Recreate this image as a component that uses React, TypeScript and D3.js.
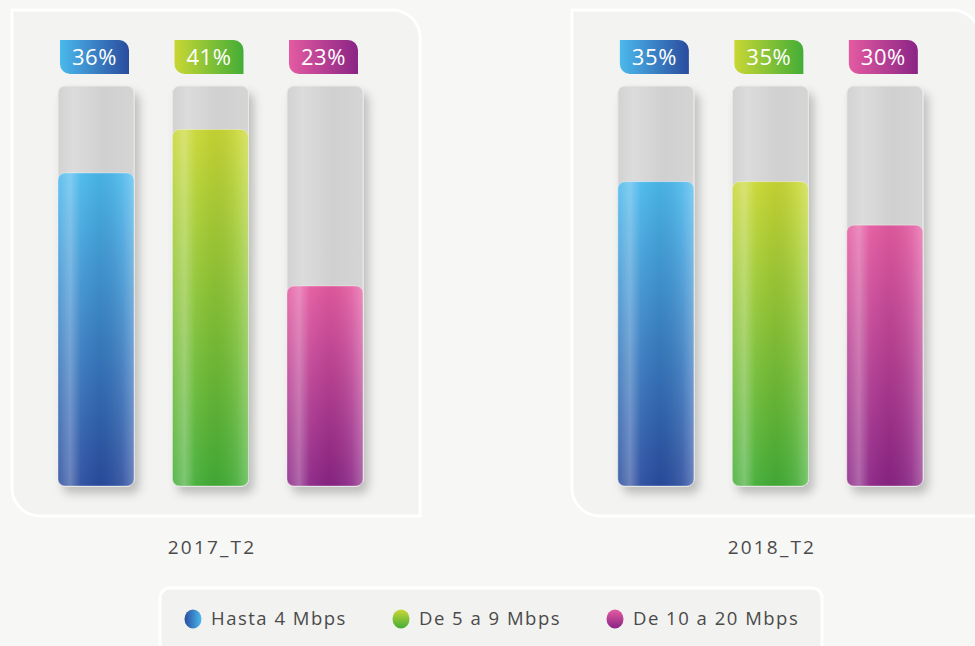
import React from "react";
import * as d3 from "d3";

const periods = ["2017_T2", "2018_T2"];
const categories = ["Hasta 4 Mbps", "De 5 a 9 Mbps", "De 10 a 20 Mbps"];
const values2017 = [36, 41, 23];
const values2018 = [35, 35, 30];
const lightColors = ["#4bb9ec", "#c9d734", "#e45ba1"];
const darkColors = ["#2a4c9e", "#43ad37", "#8a2485"];

const W = 975;
const H = 646;
const FONT = "'Open Sans', 'Noto Sans', sans-serif";

// top-left square, top-right round, bottom-right square, bottom-left round
function leaf(x: number, y: number, w: number, h: number, r: number) {
  return `M${x},${y}H${x + w - r}A${r},${r} 0 0 1 ${x + w},${y + r}V${y + h}H${x + r}A${r},${r} 0 0 1 ${x},${y + h - r}Z`;
}

export default function App() {
  const seriesByPeriod = [values2017, values2018];

  const panelX = d3.scaleBand<string>().domain(periods).range([12, 980]).paddingInner(0.271);
  const barX = d3.scaleBand<string>().domain(categories).range([46, 351]).paddingInner(0.336);
  const y = d3.scaleLinear().domain([0, 46]).range([486, 86]);
  const legendX = d3.scaleOrdinal<string, number>().domain(categories).range([193, 401, 615]);

  const panelTop = 10;
  const panelBottom = 516;
  const bw = barX.bandwidth();

  return (
    <svg width={W} height={H} style={{ position: "absolute", left: 0, top: 0, background: "#f7f7f6" }}>
      <defs>
        <filter id="shadow" x="-30%" y="-10%" width="170%" height="130%">
          <feDropShadow dx="5" dy="7" stdDeviation="5" floodColor="#000" floodOpacity="0.22" />
        </filter>
        <linearGradient id="track" x1="0" x2="1" y1="0" y2="0">
          <stop offset="0" stopColor="#d2d2d2" />
          <stop offset="0.2" stopColor="#dcdcdc" />
          <stop offset="0.6" stopColor="#d0d0d0" />
          <stop offset="1" stopColor="#d5d5d5" />
        </linearGradient>
        <linearGradient id="gloss" x1="0" x2="1" y1="0" y2="0">
          <stop offset="0" stopColor="#fff" stopOpacity="0.12" />
          <stop offset="0.16" stopColor="#fff" stopOpacity="0.3" />
          <stop offset="0.3" stopColor="#fff" stopOpacity="0.05" />
          <stop offset="0.55" stopColor="#000" stopOpacity="0.04" />
          <stop offset="0.85" stopColor="#fff" stopOpacity="0.1" />
          <stop offset="1" stopColor="#fff" stopOpacity="0.3" />
        </linearGradient>
        {categories.map((c, i) => (
          <React.Fragment key={c}>
            <linearGradient id={`fill${i}`} x1="0" x2="0" y1="0" y2="1">
              <stop offset="0" stopColor={lightColors[i]} />
              <stop offset="1" stopColor={darkColors[i]} />
            </linearGradient>
            <linearGradient id={`tag${i}`} x1="0" x2="1" y1="0" y2="0">
              <stop offset="0" stopColor={lightColors[i]} />
              <stop offset="1" stopColor={darkColors[i]} />
            </linearGradient>
            <linearGradient id={`dot${i}`} x1={i === 0 ? "0" : "0.5"} x2={i === 0 ? "1" : "0.5"} y1={i === 0 ? "0.5" : "0"} y2={i === 0 ? "0.5" : "1"}>
              <stop offset="0" stopColor={i === 0 ? darkColors[i] : lightColors[i]} />
              <stop offset="1" stopColor={i === 0 ? lightColors[i] : darkColors[i]} />
            </linearGradient>
          </React.Fragment>
        ))}
      </defs>

      {periods.map((p, pi) => {
        const px = panelX(p)!;
        const pw = panelX.bandwidth();
        return (
          <g key={p}>
            <path d={leaf(px, panelTop, pw, panelBottom - panelTop, 28)} fill="#f3f3f1" stroke="#ffffff" strokeWidth={3} />
            {categories.map((c, ci) => {
              const bx = px + barX(c)!;
              const v = seriesByPeriod[pi][ci];
              const top = y(v);
              return (
                <g key={c}>
                  <rect x={bx} y={y(46)} width={bw} height={y(0) - y(46)} rx={7} fill="url(#track)" stroke="#e9e9e9" strokeWidth={1} filter="url(#shadow)" />
                  <rect x={bx} y={top} width={bw} height={y(0) - top} rx={7} fill={`url(#fill${ci})`} />
                  <rect x={bx} y={top} width={bw} height={y(0) - top} rx={7} fill="url(#gloss)" stroke="rgba(255,255,255,0.35)" strokeWidth={1} />
                  <path d={leaf(bx + 2, 40, 69, 34, 10)} fill={`url(#tag${ci})`} />
                  <text x={bx + 36.5} y={57.5} dy="0.35em" textAnchor="middle" fill="#fff" fontFamily={FONT} fontWeight={500} fontSize={22} letterSpacing={0.6}>
                    {`${v}%`}
                  </text>
                </g>
              );
            })}
            <text x={px + pw / 2 - 4} y={547} dy="0.35em" textAnchor="middle" fill="#4a4a4a" fontFamily={FONT} fontWeight={500} fontSize={19} letterSpacing={2.2}>
              {p}
            </text>
          </g>
        );
      })}

      <path d={`M160,${646 + 10}V598A10,10 0 0 1 170,588H812A10,10 0 0 1 822,598V${646 + 10}`} fill="#f2f2f0" stroke="#ffffff" strokeWidth={3} />
      {categories.map((c, i) => (
        <g key={c}>
          <ellipse cx={legendX(c)} cy={619} rx={8.5} ry={9.5} fill={`url(#dot${i})`} />
          <text x={legendX(c) + 18} y={619} dy="0.35em" fill="#4a4a4a" fontFamily={FONT} fontSize={18.5} letterSpacing={1.5}>
            {c}
          </text>
        </g>
      ))}
    </svg>
  );
}
